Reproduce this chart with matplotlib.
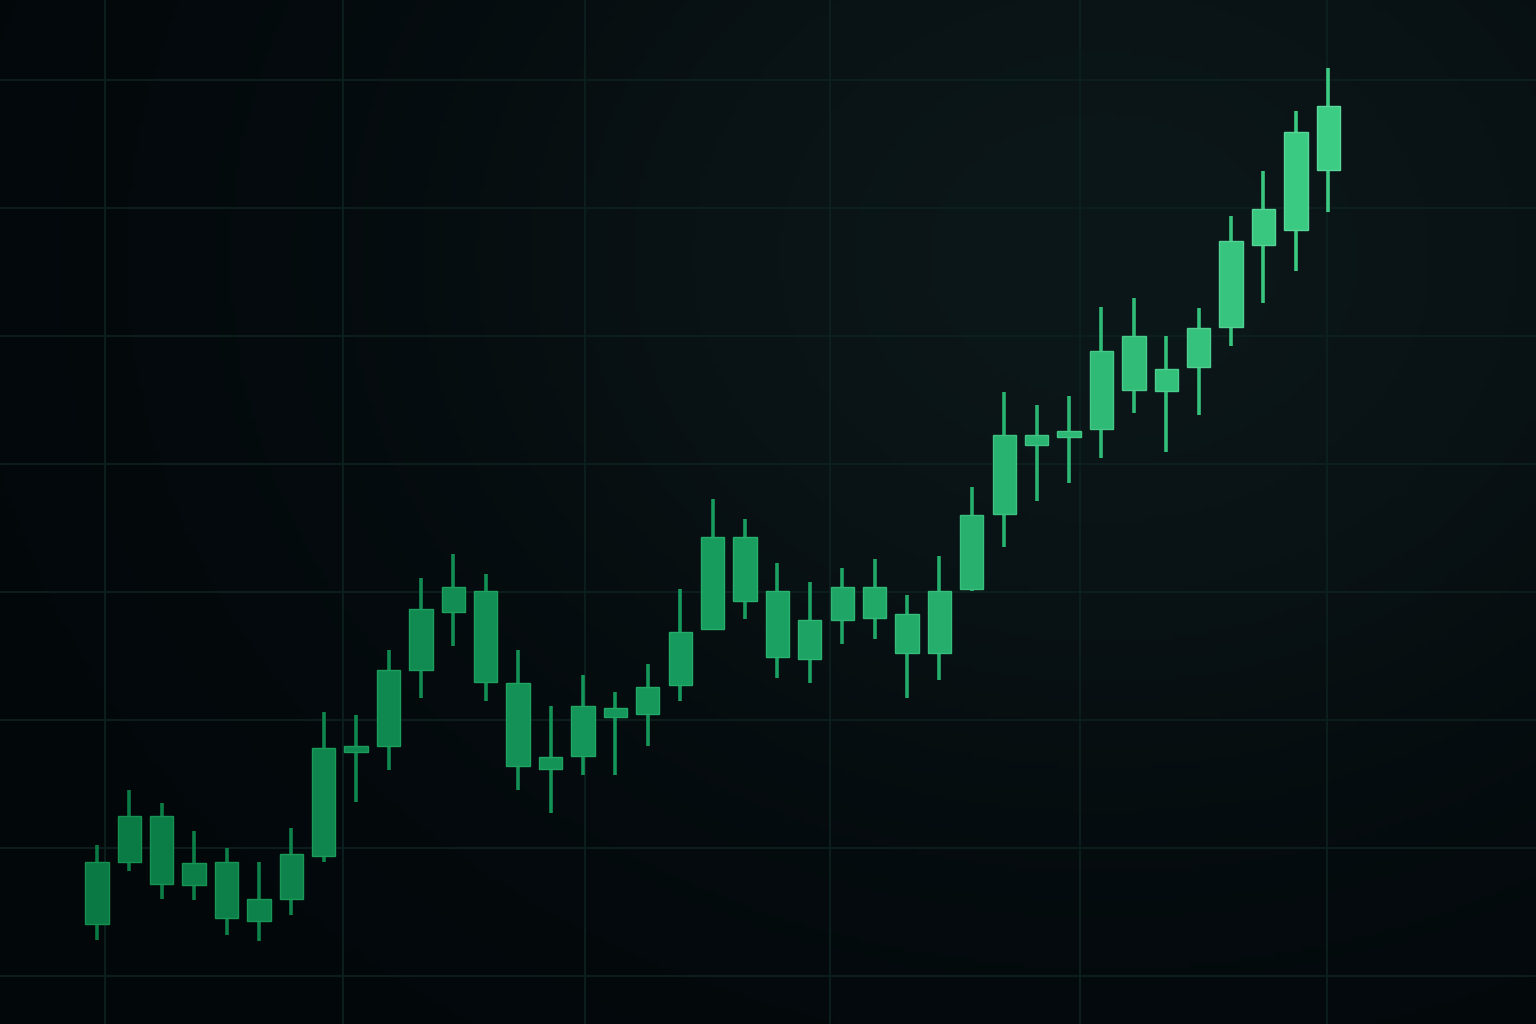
import numpy as np
import matplotlib
matplotlib.use("Agg")
import matplotlib.pyplot as plt
from matplotlib.colors import LinearSegmentedColormap, to_rgb

# Candle values (price units, grid every 10)
highs = [10.2, 14.5, 13.5, 11.3, 10.0, 8.9, 11.6, 20.6, 20.4, 25.5,
         31.1, 33.0, 31.4, 25.5, 21.1, 23.5, 22.2, 24.4, 30.2, 37.3,
         35.7, 32.3, 30.8, 31.9, 32.6, 29.8, 32.8, 38.2, 45.6, 44.6,
         45.3, 52.3, 53.0, 50.0, 52.2, 59.4, 62.9, 67.6, 70.9]
body_top = [8.9, 12.5, 12.5, 8.8, 8.9, 6.0, 9.5, 17.8, 18.0, 23.9,
            28.7, 30.4, 30.1, 22.9, 17.1, 21.1, 20.9, 22.6, 26.9, 34.3,
            34.3, 30.1, 27.8, 30.4, 30.4, 28.3, 30.1, 36.0, 42.3, 42.3,
            42.6, 48.8, 50.0, 47.4, 50.6, 57.4, 59.9, 65.9, 68.0]
body_bottom = [4.1, 8.9, 7.2, 7.1, 4.5, 4.3, 6.0, 9.4, 17.5, 18.0,
               23.9, 28.4, 23.0, 16.4, 16.2, 17.2, 20.2, 20.5, 22.7, 27.1,
               29.3, 24.9, 24.8, 27.8, 28.0, 25.2, 25.2, 30.2, 36.1, 41.5,
               42.1, 42.7, 45.8, 45.7, 47.6, 50.7, 57.1, 58.3, 63.0]
lows = [2.8, 8.2, 6.0, 5.9, 3.2, 2.7, 4.8, 8.9, 13.6, 16.1,
        21.7, 25.8, 21.5, 14.5, 12.7, 15.7, 15.7, 18.0, 21.5, 27.0,
        27.9, 23.3, 22.9, 25.9, 26.3, 21.7, 23.1, 30.1, 33.5, 37.1,
        38.5, 40.5, 44.0, 40.9, 43.8, 49.2, 52.6, 55.1, 59.7]

# Grid positions (price levels and candle-index positions)
h_grid = [0, 10, 20, 30, 40, 50, 60, 70]
v_grid = [0.25, 7.6, 15.06, 22.62, 30.34, 37.96]

n = len(highs)
x = np.arange(n)
highs = np.array(highs)
lows = np.array(lows)
body_top = np.array(body_top)
body_bottom = np.array(body_bottom)

fig = plt.figure(figsize=(15.36, 10.24), dpi=100)
ax = fig.add_axes([0, 0, 1, 1])
x_min, x_max = -2.99, 44.41
y_min, y_max = -3.75, 76.25
ax.set_xlim(x_min, x_max)
ax.set_ylim(y_min, y_max)

# Dark background with a faint glow toward the upper right
gx, gy = np.meshgrid(np.linspace(0, 1, 300), np.linspace(0, 1, 200))
glow = np.exp(-(((gx - 0.72) / 0.45) ** 2 + ((gy - 0.75) / 0.55) ** 2))
dark = np.array(to_rgb("#02070a"))
light = np.array(to_rgb("#0c1719"))
bg = dark + (light - dark) * glow[..., None]
ax.imshow(bg, extent=[x_min, x_max, y_min, y_max], origin="lower",
          aspect="auto", zorder=0)

# Grid
grid_color = "#0d2220"
for yv in h_grid:
    ax.axhline(yv, color=grid_color, lw=1.2, zorder=1)
for xv in v_grid:
    ax.axvline(xv, color=grid_color, lw=1.2, zorder=1)

# Candle colours go from deep green on the left to light green on the right
cmap = LinearSegmentedColormap.from_list("greens", ["#0a7944", "#179c5e", "#3dcc84"])
colors = [cmap(i / (n - 1)) for i in range(n)]
edge_cmap = LinearSegmentedColormap.from_list("edges", ["#14904f", "#24ad6b", "#5ad99a"])
edges = [edge_cmap(i / (n - 1)) for i in range(n)]

ax.vlines(x, lows, highs, colors=colors, lw=2.6, zorder=2)
ax.bar(x, body_top - body_bottom, bottom=body_bottom, width=0.72,
       color=colors, edgecolor=edges, linewidth=1.0, zorder=3)

ax.set_axis_off()
fig.savefig("out.png", dpi=100)
